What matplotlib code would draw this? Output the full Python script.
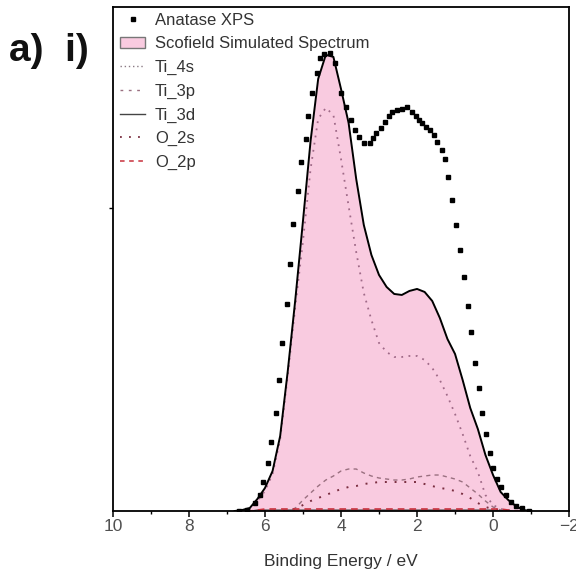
import numpy as np
import matplotlib
matplotlib.use('Agg')
import matplotlib.pyplot as plt
from matplotlib.patches import Patch
from matplotlib.lines import Line2D

plt.rcParams['font.family'] = ['Liberation Sans', 'DejaVu Sans']

# measured anatase valence band (binding energy in eV, counts in arb. units)
xps_be = [6.67, 6.48, 6.25, 6.14, 6.06, 5.93, 5.83, 5.72, 5.64, 5.54, 5.43, 5.33,
          5.25, 5.12, 5.04, 4.93, 4.86, 4.75, 4.62, 4.54, 4.44, 4.30, 4.15, 3.99,
          3.88, 3.73, 3.62, 3.52, 3.39, 3.25, 3.15, 3.07, 2.94, 2.83, 2.73, 2.65,
          2.52, 2.39, 2.26, 2.13, 2.02, 1.94, 1.86, 1.76, 1.65, 1.55, 1.47, 1.34,
          1.26, 1.18, 1.08, 0.97, 0.87, 0.76, 0.66, 0.58, 0.47, 0.37, 0.29, 0.18,
          0.08, 0.00, -0.10, -0.21, -0.34, -0.47, -0.60, -0.76, -0.94]
xps_int = [0, 1, 8, 16, 29, 48, 69, 98, 131, 168, 207, 247,
           287, 320, 349, 372, 395, 418, 438, 453, 457, 458, 448, 418,
           404, 391, 381, 374, 368, 368, 373, 378, 383, 389, 395, 399,
           401, 402, 404, 399, 395, 391, 388, 384, 381, 376, 369, 361,
           352, 334, 311, 286, 261, 234, 205, 179, 148, 123, 98, 77,
           58, 43, 32, 24, 16, 9, 5, 3, 0]

# Scofield weighted partial DOS on a 0.2 eV grid
sim_be = [6.8, 6.6, 6.4, 6.2, 6.0, 5.8, 5.6, 5.4, 5.2, 5.0, 4.8, 4.6, 4.4, 4.2,
          4.0, 3.8, 3.6, 3.4, 3.2, 3.0, 2.8, 2.6, 2.4, 2.2, 2.0, 1.8, 1.6, 1.4,
          1.2, 1.0, 0.8, 0.6, 0.4, 0.2, 0.0, -0.2, -0.4, -0.6, -0.8, -1.0]
total = [0, 1, 3, 12, 23, 40, 75, 140, 212, 290, 370, 432, 456, 454,
         422, 388, 332, 286, 256, 236, 224, 217, 216, 220, 222, 219, 210, 193,
         172, 157, 131, 103, 82, 56, 36, 19, 11, 5, 1, 0]
ti_4s = [0, 0, 2, 10, 20, 37, 72, 136, 205, 270, 342, 392, 403, 396,
         352, 305, 259, 218, 191, 168, 159, 154, 154, 155, 155, 151, 143, 131,
         115, 97, 77, 55, 39, 16, 6, 2, 1, 0, 0, 0]
ti_3p = [0, 0, 0, 0, 0, 0, 0, 0, 3, 11, 18, 25, 31, 35,
         40, 42, 42, 38, 35, 33, 32, 31, 31, 32, 34, 35, 36, 36,
         34, 32, 29, 23, 17, 10, 4, 1, 0, 0, 0, 0]
ti_3d = [0, 0, 0, 1, 1, 1, 1, 1, 1, 1, 1, 1, 1, 1,
         1, 1, 1, 1, 1, 1, 1, 1, 1, 1, 1, 1, 1, 1,
         1, 1, 1, 1, 1, 1, 1, 0, 0, 0, 0, 0]
o_2s = [0, 0, 0, 0, 0, 0, 0, 0, 2, 6, 10, 13, 16, 19,
        22, 24, 25, 27, 28, 29, 29, 29, 29, 29, 29, 27, 25, 23,
        22, 20, 17, 13, 8, 4, 2, 1, 0, 0, 0, 0]
o_2p = [0, 0, 0, 1, 2, 2, 2, 2, 2, 2, 2, 2, 2, 2,
        2, 2, 2, 2, 2, 2, 2, 2, 2, 2, 2, 2, 2, 2,
        2, 2, 2, 2, 2, 2, 2, 2, 1, 0, 0, 0]

pink = '#f9cbe0'
c_4s = '#a06a88'
c_3p = '#9a7080'
c_3d = '#444444'
c_2s = '#7a2e40'
c_2p = '#c8303c'

fig = plt.figure(figsize=(5.76, 5.72), dpi=100)
ax = fig.add_axes([0.196, 0.1066, 0.792, 0.8814])

ax.fill_between(sim_be, 0, total, color=pink, lw=0)
ax.plot(sim_be, ti_4s, ls=(0, (1, 3)), lw=1.3, color=c_4s)
ax.plot(sim_be, ti_3p, ls=(0, (3, 3)), lw=1.0, color=c_3p)
ax.plot(sim_be, o_2s, ls=(0, (1, 4)), lw=1.4, color=c_2s)
ax.plot(sim_be, ti_3d, ls='-', lw=0.8, color=c_3d)
ax.plot(sim_be, o_2p, ls=(0, (4, 3)), lw=1.2, color=c_2p)
ax.plot(sim_be, total, color='black', lw=1.4)
ax.plot(xps_be, xps_int, 's', ms=3.0, color='black', lw=0)

ax.set_xlim(10, -2)
ax.set_ylim(0, 504)
ax.set_xticks([10, 8, 6, 4, 2, 0, -2])
ax.set_xticks([9, 7, 5, 3, 1, -1], minor=True)
ax.set_yticks([303])
ax.set_yticklabels([])
ax.tick_params(axis='x', which='major', direction='out', length=4, width=1.1,
               labelsize=12.5, labelcolor='#505050', pad=2)
ax.tick_params(axis='x', which='minor', direction='out', length=2, width=1.0)
ax.tick_params(axis='y', direction='out', length=3, width=1.0)
for s in ax.spines.values():
    s.set_linewidth(1.3)
ax.set_xlabel('Binding Energy / eV', fontsize=12.5, color='#333333', labelpad=14)

handles = [
    Line2D([], [], marker='s', ms=2.8, ls='none', color='black'),
    Patch(facecolor=pink, edgecolor='#777777', lw=1.0),
    Line2D([], [], ls=(0, (1, 2)), lw=1.0, color='#8a7a84'),
    Line2D([], [], ls=(0, (2, 4)), lw=1.0, color=c_3p),
    Line2D([], [], ls='-', lw=1.0, color=c_3d),
    Line2D([], [], ls=(0, (1, 4)), lw=1.3, color=c_2s),
    Line2D([], [], ls=(0, (3, 3)), lw=1.1, color=c_2p),
]
labels = ['Anatase XPS', 'Scofield Simulated Spectrum', 'Ti_4s', 'Ti_3p',
          'Ti_3d', 'O_2s', 'O_2p']
leg = ax.legend(handles, labels, loc='upper left', bbox_to_anchor=(0.001, 1.002),
                frameon=False, fontsize=12, handlelength=1.5, handletextpad=0.6,
                labelspacing=0.52, borderaxespad=0)
for t in leg.get_texts():
    t.set_color('#333333')

fig.text(0.016, 0.893, 'a)  i)', fontsize=28, fontweight='bold', color='#111111')

plt.savefig('out.png', dpi=100)
